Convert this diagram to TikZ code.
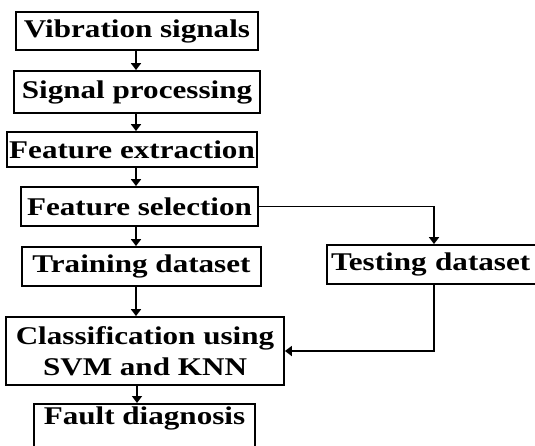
\documentclass[tikz,border=0pt]{standalone}
\usepackage{fontspec}
\setmainfont{Liberation Serif}[FakeStretch=1.22]
\usetikzlibrary{arrows.meta}
\begin{document}
\begin{tikzpicture}[x=1pt,y=-1pt,
  box/.style={draw, line width=1.8pt, inner sep=0pt, align=center,
    font=\bfseries\fontsize{25.5}{31}\selectfont},
  arr/.style={-{Triangle[width=10pt,length=7pt]}, line width=1.8pt}]
\useasboundingbox (0,0) rectangle (535,445);
\node[box, minimum width=242pt, minimum height=38pt] (vib) at (137,31) {Vibration signals};
\node[box, minimum width=246pt, minimum height=42pt] (sig) at (137,92) {Signal processing};
\node[box, minimum width=250pt, minimum height=35pt] (ext) at (132,149.5) {Feature extraction};
\node[box, minimum width=237pt, minimum height=39pt] (sel) at (139.5,206.5) {Feature selection};
\node[box, minimum width=239pt, minimum height=39pt] (train) at (141.5,266.5) {Training dataset};
\node[box, minimum width=214pt, minimum height=39pt, text width=206pt, align=left, inner xsep=4pt] (test) at (434,264.5) {Testing dataset};
\node[box, minimum width=278pt, minimum height=68pt] (class) at (145,351) {Classification using\\SVM and KNN};
\node[box, minimum width=221pt, text height=21pt, text depth=25pt, anchor=north] (fault) at (144.5,403) {Fault diagnosis};
\coordinate (ax) at (136,0);
\coordinate (bx) at (137,0);
\draw[arr] (vib.south -| ax) -- (sig.north -| ax);
\draw[arr] (sig.south -| ax) -- (ext.north -| ax);
\draw[arr] (ext.south -| ax) -- (sel.north -| ax);
\draw[arr] (sel.south -| ax) -- (train.north -| ax);
\draw[arr] (train.south -| ax) -- (class.north -| ax);
\draw[arr] (class.south -| bx) -- (fault.north -| bx);
\draw[arr] (sel.east) -| (test.north);
\draw[arr] (test.south) |- (class.east);
\end{tikzpicture}
\end{document}
